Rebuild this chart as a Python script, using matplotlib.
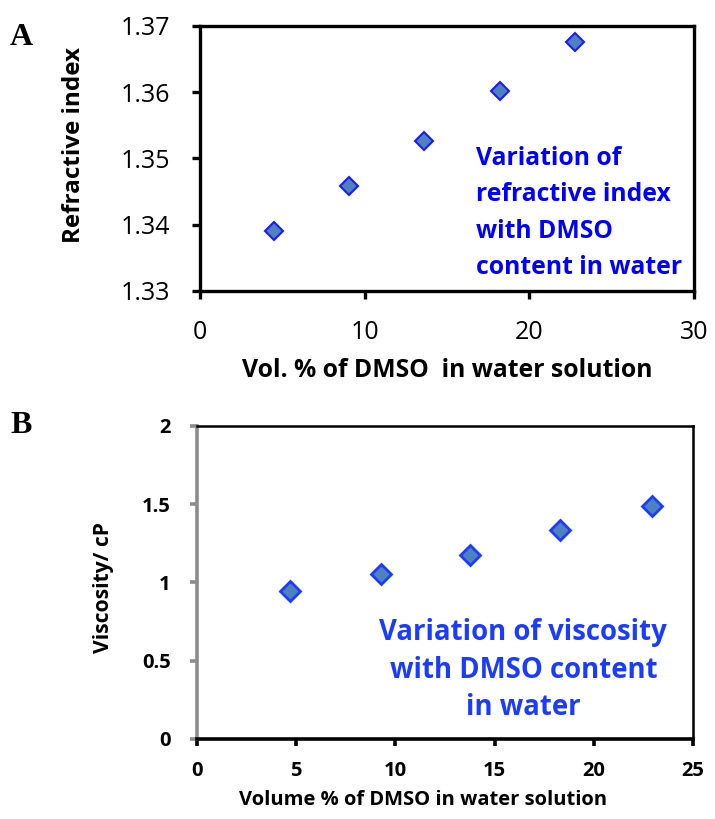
import numpy as np
import matplotlib
matplotlib.use("Agg")
import matplotlib.pyplot as plt

# Panel A data
dmso_a = [4.5, 9.05, 13.6, 18.2, 22.8]
refr_index = [1.3391, 1.3459, 1.3527, 1.3602, 1.3676]

# Panel B data
dmso_b = [4.7, 9.26, 13.76, 18.31, 22.92]
viscosity = [0.948, 1.054, 1.176, 1.335, 1.491]

plt.rcParams['font.family'] = ['Open Sans', 'DejaVu Sans']

fig = plt.figure(figsize=(7.15, 8.19), dpi=100)

face = '#4F81BD'

#Panel A
ax1 = fig.add_axes([0.2797, 0.6447, 0.6909, 0.3236])
ax1.plot(dmso_a, refr_index, linestyle='none', marker='D', markersize=9,
         markerfacecolor=face, markeredgecolor='#1a1aff', markeredgewidth=1.5)
ax1.set_xlim(0, 30)
ax1.set_ylim(1.33, 1.37)
ax1.set_xticks([0, 10, 20, 30])
ax1.set_yticks([1.33, 1.34, 1.35, 1.36, 1.37])
ax1.set_yticklabels(['1.33', '1.34', '1.35', '1.36', '1.37'])
for s in ax1.spines.values():
    s.set_linewidth(2.4)
    s.set_color('black')
ax1.tick_params(direction='out', length=6, width=2.4, labelsize=18)
ax1.tick_params(axis='y', pad=15.5)
ax1.tick_params(axis='x', pad=15)
ax1.set_xlabel('Vol. % of DMSO  in water solution', fontsize=17.8, fontweight='bold')
ax1.xaxis.set_label_coords(0.5, -0.253)
ax1.set_ylabel('Refractive index', fontsize=17.5, fontweight='bold')
ax1.yaxis.set_label_coords(-0.231, 0.549)
ax1.text(0.558, 0.547, 'Variation of\nrefractive index\nwith DMSO\ncontent in water',
         transform=ax1.transAxes, ha='left', va='top', fontsize=17.8, fontweight='bold',
         color='#0000ff', linespacing=1.6)
fig.text(0.014, 0.945, 'A', fontsize=23, fontweight='bold', family='Liberation Serif')

#Panel B
ax2 = fig.add_axes([0.2755, 0.0977, 0.6937, 0.3822])
ax2.plot(dmso_b, viscosity, linestyle='none', marker='D', markersize=10,
         markerfacecolor=face, markeredgecolor='#1a3cff', markeredgewidth=2)
ax2.set_xlim(0, 25)
ax2.set_ylim(0, 2)
ax2.set_xticks([0, 5, 10, 15, 20, 25])
ax2.set_yticks([0, 0.5, 1, 1.5, 2])
ax2.set_yticklabels(['0', '0.5', '1', '1.5', '2'])
ax2.spines['left'].set_color('#8c8c8c')
ax2.spines['left'].set_linewidth(2.6)
ax2.spines['bottom'].set_linewidth(2.6)
ax2.spines['top'].set_linewidth(1.8)
ax2.spines['right'].set_linewidth(1.8)
ax2.tick_params(axis='x', direction='out', length=5, width=2.6, labelsize=14.5, pad=10.5)
ax2.tick_params(axis='y', direction='out', length=5, width=2.6, color='#8c8c8c', labelsize=14.5, pad=14)
for lab in ax2.get_xticklabels() + ax2.get_yticklabels():
    lab.set_fontweight('bold')
ax2.set_xlabel('Volume % of DMSO in water solution', fontsize=14.5, fontweight='bold')
ax2.xaxis.set_label_coords(0.4567, -0.162)
ax2.set_ylabel('Viscosity/ cP', fontsize=15.2, fontweight='bold')
ax2.yaxis.set_label_coords(-0.167, 0.484)
ax2.text(0.658, 0.385, 'Variation of viscosity\nwith DMSO content\nin water',
         transform=ax2.transAxes, ha='center', va='top', fontsize=19.8, fontweight='bold',
         color='#1a3cff', linespacing=1.37)
fig.text(0.014, 0.4713, 'B', fontsize=23, fontweight='bold', family='Liberation Serif')

fig.savefig('out.png', dpi=100)
